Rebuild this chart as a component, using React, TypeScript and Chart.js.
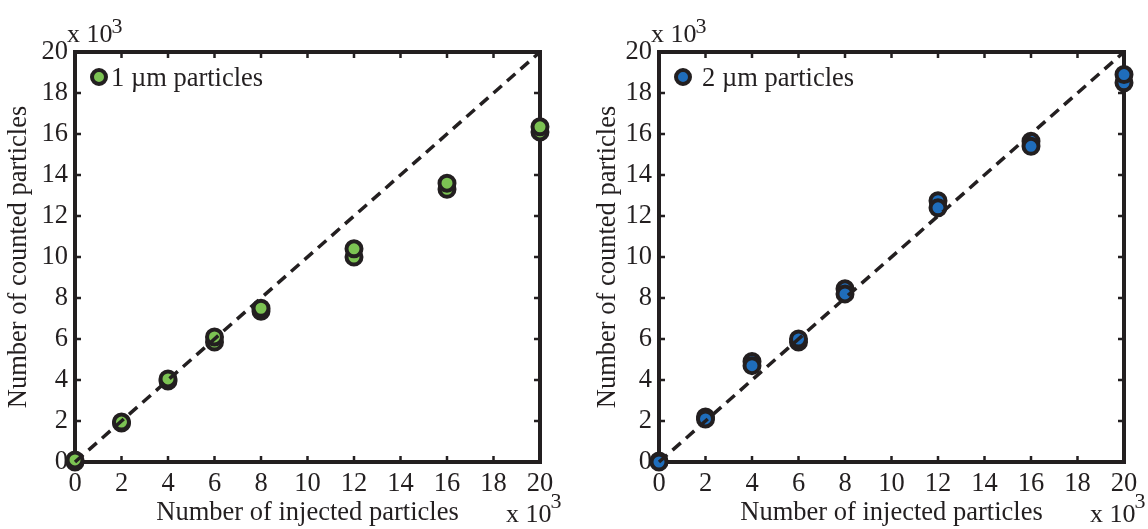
import React, { useEffect, useRef } from "react";
import { Chart, registerables } from "chart.js";

Chart.register(...registerables);

// ---------- data (values in thousands) ----------
const injected = [0, 2, 4, 6, 8, 12, 16, 20];
const counted1umFront = [0.1, 1.95, 4.05, 6.1, 7.5, 10.4, 13.6, 16.35];
const counted1umBack = [0.0, 1.9, 3.95, 5.85, 7.35, 10.0, 13.3, 16.1];
const counted2umFront = [0.0, 2.1, 4.7, 6.0, 8.2, 12.4, 15.4, 18.9];
const counted2umBack = [0.05, 2.2, 4.9, 5.85, 8.45, 12.75, 15.65, 18.5];
const idealX = [0, 20];
const idealY = [0, 20];
const tickValues = [0, 2, 4, 6, 8, 10, 12, 14, 16, 18, 20];

const xTitle = "Number of injected particles";
const yTitle = "Number of counted particles";
const legend1 = "1 µm particles";
const legend2 = "2 µm particles";
const expBase = "x 10";
const expPower = "3";

const FONT = '"Liberation Serif", "Times New Roman", serif';
const INK = "#231f20";
const GREEN = "#7cc353";
const BLUE = "#1f6dbb";
const W = 574;
const H = 529;

type PanelProps = {
  front: number[];
  back: number[];
  fill: string;
  label: string;
  padLeft: number;
  yWidth: number;
  padRight: number;
  legendTextDx: number;
};

const framePlugin = {
  id: "frame",
  beforeDatasetsDraw(chart: any) {
    const { ctx, chartArea } = chart;
    const { left, right, top, bottom } = chartArea;
    const xs = chart.scales.x;
    const ys = chart.scales.y;
    ctx.save();
    ctx.strokeStyle = INK;
    ctx.lineWidth = 2.5;
    const tl = 6;
    xs.ticks.forEach((t: any) => {
      const px = xs.getPixelForValue(t.value);
      if (px <= left + 1 || px >= right - 1) return;
      ctx.beginPath();
      ctx.moveTo(px, bottom);
      ctx.lineTo(px, bottom - tl);
      ctx.moveTo(px, top);
      ctx.lineTo(px, top + tl);
      ctx.stroke();
    });
    ys.ticks.forEach((t: any) => {
      const py = ys.getPixelForValue(t.value);
      if (py <= top + 1 || py >= bottom - 1) return;
      ctx.beginPath();
      ctx.moveTo(left, py);
      ctx.lineTo(left + tl, py);
      ctx.moveTo(right, py);
      ctx.lineTo(right - tl, py);
      ctx.stroke();
    });
    ctx.lineWidth = 4;
    ctx.lineJoin = "miter";
    ctx.strokeRect(left, top, right - left, bottom - top);
    ctx.restore();
  },
};

function makeTextPlugin(fill: string, label: string, legendTextDx: number) {
  return {
    id: "texts",
    afterDraw(chart: any) {
      const { ctx, chartArea } = chart;
      const { left, right, top, bottom } = chartArea;
      ctx.save();
      // legend
      ctx.beginPath();
      ctx.arc(left + 24, top + 25, 7, 0, Math.PI * 2);
      ctx.fillStyle = fill;
      ctx.fill();
      ctx.lineWidth = 4;
      ctx.strokeStyle = INK;
      ctx.stroke();
      ctx.fillStyle = INK;
      ctx.font = `26.5px ${FONT}`;
      ctx.textAlign = "left";
      ctx.textBaseline = "alphabetic";
      ctx.fillText(label, left + legendTextDx, top + 34);
      // exponent labels
      const drawExp = (x: number, y: number, supDy: number) => {
        ctx.font = `26px ${FONT}`;
        ctx.fillText(expBase, x, y);
        const w = ctx.measureText(expBase).width;
        ctx.font = `22px ${FONT}`;
        ctx.fillText(expPower, x + w - 1, y - supDy);
      };
      drawExp(left - 8, top - 10, 9);
      drawExp(right - 34, bottom + 60, 14);
      ctx.restore();
    },
  };
}

function Panel(props: PanelProps) {
  const ref = useRef<HTMLCanvasElement | null>(null);
  useEffect(() => {
    if (!ref.current) return;
    const toPts = (ys: number[]) => injected.map((x, i) => ({ x, y: ys[i] }));
    const axisFont = { family: FONT, size: 26.5 };
    const chart = new Chart(ref.current, {
      type: "scatter",
      data: {
        datasets: [
          {
            type: "line",
            label: "ideal",
            data: idealX.map((x, i) => ({ x, y: idealY[i] })),
            borderColor: INK,
            borderWidth: 3.5,
            borderDash: [11, 7],
            pointRadius: 0,
            fill: false,
            clip: false,
            order: 0,
          } as any,
          {
            label: props.label,
            data: toPts(props.front),
            backgroundColor: props.fill,
            borderColor: INK,
            borderWidth: 4,
            pointRadius: 7.5,
            clip: false,
            order: 1,
          },
          {
            label: props.label + " (repeat)",
            data: toPts(props.back),
            backgroundColor: props.fill,
            borderColor: INK,
            borderWidth: 4,
            pointRadius: 7.5,
            clip: false,
            order: 2,
          },
        ],
      },
      options: {
        animation: false,
        responsive: false,
        layout: { padding: { left: props.padLeft, right: props.padRight, top: 52, bottom: 0 } },
        plugins: { legend: { display: false }, tooltip: { enabled: false } },
        scales: {
          x: {
            type: "linear",
            min: 0,
            max: 20,
            afterBuildTicks: (s: any) => {
              s.ticks = tickValues.map((v) => ({ value: v }));
            },
            afterFit: (s: any) => {
              s.height = 67;
            },
            grid: { display: false, drawTicks: false },
            border: { display: false },
            ticks: { font: axisFont, color: INK, padding: 6, maxRotation: 0, autoSkip: false },
            title: {
              display: true,
              text: xTitle,
              font: axisFont,
              color: INK,
              padding: { top: 0, bottom: 0 },
            },
          },
          y: {
            type: "linear",
            min: 0,
            max: 20,
            afterBuildTicks: (s: any) => {
              s.ticks = tickValues.map((v) => ({ value: v }));
            },
            afterFit: (s: any) => {
              s.width = props.yWidth;
            },
            grid: { display: false, drawTicks: false },
            border: { display: false },
            ticks: { font: axisFont, color: INK, padding: 7, autoSkip: false },
            title: {
              display: true,
              text: yTitle,
              font: axisFont,
              color: INK,
              padding: { top: 3, bottom: 0 },
            },
          },
        },
      } as any,
      plugins: [framePlugin, makeTextPlugin(props.fill, props.label, props.legendTextDx)],
    });
    return () => chart.destroy();
  }, []);
  return <canvas ref={ref} width={W} height={H} style={{ display: "block", width: W, height: H }} />;
}

export default function App() {
  return (
    <div
      style={{
        position: "absolute",
        left: 0,
        top: 0,
        width: 1148,
        height: 529,
        display: "flex",
        background: "#ffffff",
      }}
    >
      <Panel
        front={counted1umFront}
        back={counted1umBack}
        fill={GREEN}
        label={legend1}
        padLeft={0}
        yWidth={75}
        padRight={34}
        legendTextDx={36}
      />
      <Panel
        front={counted2umFront}
        back={counted2umBack}
        fill={BLUE}
        label={legend2}
        padLeft={15}
        yWidth={70}
        padRight={24}
        legendTextDx={43}
      />
    </div>
  );
}
